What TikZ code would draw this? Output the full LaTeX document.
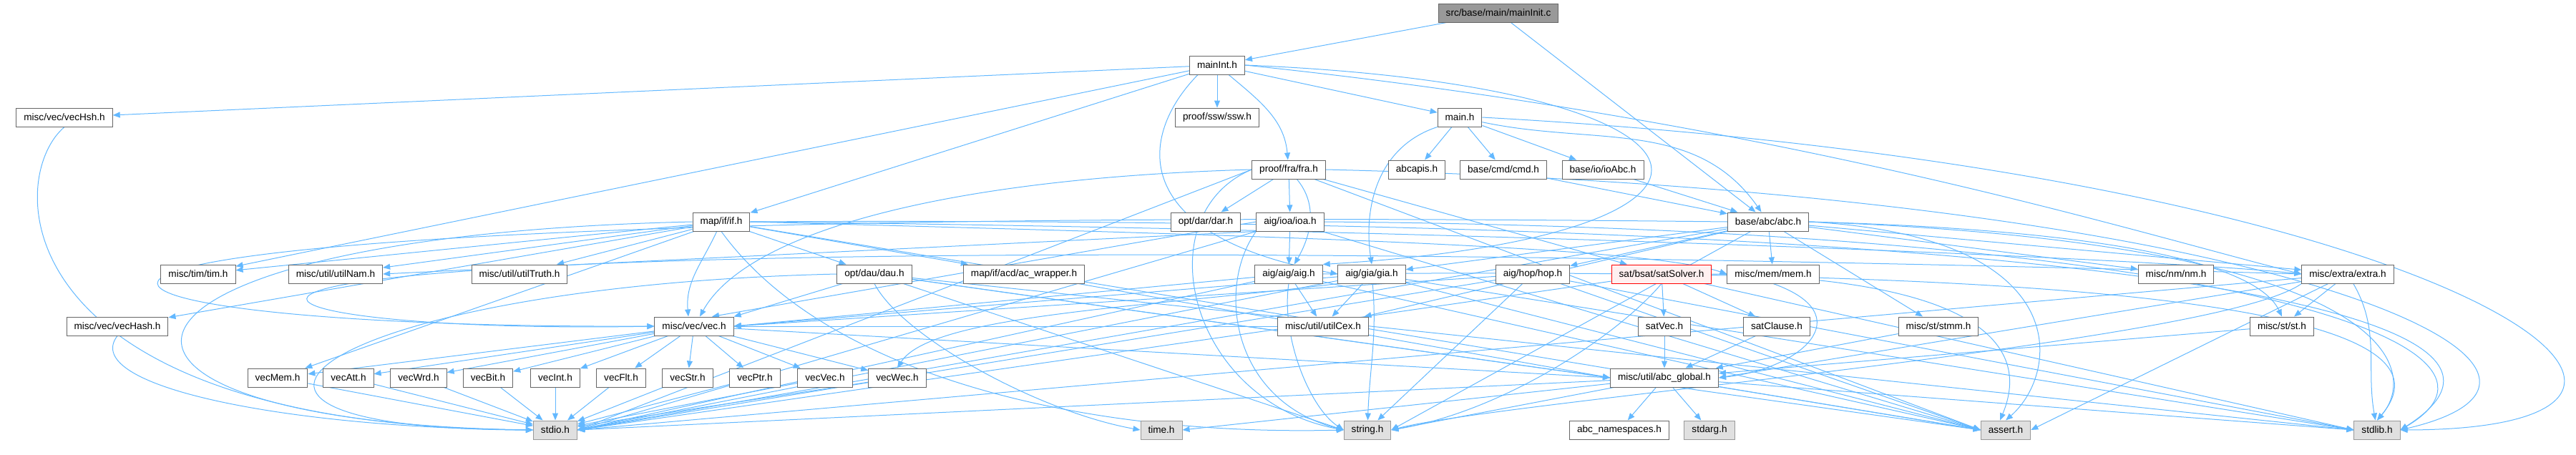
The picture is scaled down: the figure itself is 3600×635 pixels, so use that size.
\documentclass[tikz,border=0pt]{standalone}
\usepackage{fontspec}
\newfontfamily\nf{Liberation Sans}
\usetikzlibrary{arrows.meta,backgrounds}
\definecolor{eblue}{HTML}{63B8FF}
\definecolor{ndgray}{HTML}{666666}
\definecolor{sysgray}{HTML}{999999}
\definecolor{sysfill}{HTML}{E0E0E0}
\definecolor{rootfill}{HTML}{999999}
\definecolor{redfill}{HTML}{FFF0F0}
\tikzset{
  nd/.style={draw=ndgray, line width=1pt, fill=white, minimum height=26pt,
    inner xsep=10.5pt, inner ysep=0pt, font=\nf\fontsize{13.6}{16}\selectfont},
  sys/.style={nd, draw=sysgray, fill=sysfill},
  rootnd/.style={nd, fill=rootfill},
  rednd/.style={nd, draw=red, fill=redfill},
  e/.style={draw=eblue, line width=1pt, -{Triangle[length=10pt,width=8pt]}},
}
\begin{document}
\begin{tikzpicture}[x=1pt,y=-1pt]
\useasboundingbox (0,0) rectangle (3600,635);
% row 0-2
\node[rootnd] (root) at (2094,18) {src/base/main/mainInit.c};
\node[nd] (mainInt) at (1701,91) {mainInt.h};
\node[nd] (vecHsh) at (90,164) {misc/vec/vecHsh.h};
\node[nd] (ssw) at (1701,164) {proof/ssw/ssw.h};
\node[nd] (main) at (2040,164) {main.h};
% row 3
\node[nd] (fra) at (1801,237) {proof/fra/fra.h};
\node[nd] (abcapis) at (1980,237) {abcapis.h};
\node[nd] (cmd) at (2101,237) {base/cmd/cmd.h};
\node[nd] (ioAbc) at (2240,237) {base/io/ioAbc.h};
% row 4
\node[nd] (ifh) at (1008,310) {map/if/if.h};
\node[nd] (dar) at (1685,310) {opt/dar/dar.h};
\node[nd] (ioa) at (1803,310) {aig/ioa/ioa.h};
\node[nd] (abc) at (2471,310) {base/abc/abc.h};
% row 5
\node[nd] (tim) at (277,383) {misc/tim/tim.h};
\node[nd] (utilNam) at (469,383) {misc/util/utilNam.h};
\node[nd] (utilTruth) at (726,383) {misc/util/utilTruth.h};
\node[nd] (dau) at (1222,383) {opt/dau/dau.h};
\node[nd] (acw) at (1431,383) {map/if/acd/ac\_wrapper.h};
\node[nd] (aig) at (1801,383) {aig/aig/aig.h};
\node[nd] (gia) at (1917,383) {aig/gia/gia.h};
\node[nd] (hop) at (2142,383) {aig/hop/hop.h};
\node[rednd] (sat) at (2322,383) {sat/bsat/satSolver.h};
\node[nd] (mem) at (2478,383) {misc/mem/mem.h};
\node[nd] (nm) at (3041,383) {misc/nm/nm.h};
\node[nd] (extra) at (3281,383) {misc/extra/extra.h};
% row 6
\node[nd] (vecHash) at (164,456) {misc/vec/vecHash.h};
\node[nd] (vec) at (970,456) {misc/vec/vec.h};
\node[nd] (utilCex) at (1849,456) {misc/util/utilCex.h};
\node[nd] (satVec) at (2326,456) {satVec.h};
\node[nd] (satClause) at (2483,456) {satClause.h};
\node[nd] (stmm) at (2709,456) {misc/st/stmm.h};
\node[nd] (st) at (3189,456) {misc/st/st.h};
% row 7
\node[nd] (vecMem) at (388,528) {vecMem.h};
\node[nd] (vecAtt) at (487,528) {vecAtt.h};
\node[nd] (vecWrd) at (585,528) {vecWrd.h};
\node[nd] (vecBit) at (682,528) {vecBit.h};
\node[nd] (vecInt) at (776,528) {vecInt.h};
\node[nd] (vecFlt) at (868,528) {vecFlt.h};
\node[nd] (vecStr) at (961,528) {vecStr.h};
\node[nd] (vecPtr) at (1055,528) {vecPtr.h};
\node[nd] (vecVec) at (1153,528) {vecVec.h};
\node[nd] (vecWec) at (1254,528) {vecWec.h};
\node[nd] (abcglobal) at (2326,528) {misc/util/abc\_global.h};
% row 8
\node[sys] (stdio) at (776,601) {stdio.h};
\node[sys] (time) at (1623,601) {time.h};
\node[sys] (string) at (1911,601) {string.h};
\node[nd] (abcns) at (2263,601) {abc\_namespaces.h};
\node[sys] (stdarg) at (2389,601) {stdarg.h};
\node[sys] (assert) at (2803,601) {assert.h};
\node[sys] (stdlib) at (3322,601) {stdlib.h};

\begin{pgfonlayer}{background}
% root
\draw[e] (root) -- (mainInt);
\draw[e] (root) -- (abc);
% mainInt
\draw[e] (mainInt) -- (vecHsh);
\draw[e] (mainInt) -- (tim);
\draw[e] (mainInt) -- (ifh);
\draw[e] (mainInt) -- (ssw);
\draw[e] (mainInt) to[out=-40,in=95] (fra);
\draw[e] (mainInt) -- (main);
\draw[e] ([xshift=12pt]mainInt.south west) .. controls (1590,190) and (1575,330) .. (gia.west);
\draw[e] (mainInt.east) .. controls (2450,120) and (2500,330) .. (aig.north east);
\draw[e] (mainInt.east) .. controls (2500,170) and (3000,330) .. (extra.west);
% main
\draw[e] (main) -- (abcapis);
\draw[e] (main) -- (cmd);
\draw[e] (main) -- (ioAbc);
\draw[e] (main.south west) .. controls (1925,205) and (1905,290) .. (gia.north);
\draw[e] (main) to[out=-12,in=125] (abc);
\draw[e] (main.east) .. controls (3450,240) and (3900,600) .. (stdlib.east);
\draw[e] (cmd) -- (abc);
\draw[e] (ioAbc) -- (abc);
% fra
\draw[e] (fra) -- (dar);
\draw[e] (fra) -- (ioa);
\draw[e] (fra) to[out=-50,in=60] (aig);
\draw[e] (fra) -- (sat);
\draw[e] (fra.west) .. controls (1300,250) and (1040,330) .. ([xshift=8pt]vec.north);
\draw[e] (fra.west) .. controls (1600,300) and (1660,560) .. (string.west);
\draw[e] (fra) -- (assert.west);
\draw[e] (fra.east) .. controls (3200,270) and (3700,520) .. (stdlib.east);
\draw[e] (fra.west) -- (stdio.east);
% ioa
\draw[e] (ioa) -- (aig);
\draw[e] (ioa.west) -- ([xshift=25pt]vec.north);
\draw[e] (ioa.south west) -- (utilNam.east);
\draw[e] (ioa.south west) .. controls (1700,400) and (1720,560) .. (string.west);
\draw[e] (ioa) -- (assert.west);
\draw[e] (ioa.east) .. controls (3100,320) and (3560,480) .. (stdlib.east);
\draw[e] (ioa.south west) -- (stdio.east);
% aig
\draw[e] (aig) -- (vec.east);
\draw[e] (aig) -- (utilCex);
\draw[e] (aig.south) .. controls (1790,470) and (1830,570) .. (string.west);
\draw[e] (aig) -- (assert.west);
\draw[e] (aig.east) .. controls (3200,370) and (3420,470) .. (stdlib.north);
\draw[e] (aig) -- (stdio.east);
% gia
\draw[e] (gia) -- (vec.east);
\draw[e] (gia.south west) .. controls (1600,430) and (1300,440) .. (vecWec.north);
\draw[e] (gia) -- (utilCex);
\draw[e] (gia) to[out=-85,in=88] (string);
\draw[e] (gia) -- (assert.west);
\draw[e] (gia) -- (stdlib.west);
\draw[e] (gia) -- (stdio.east);
% hop
\draw[e] (hop) -- (vec.east);
\draw[e] (hop) -- (string);
\draw[e] (hop) -- (assert.west);
\draw[e] (hop) -- (stdlib.west);
\draw[e] (hop) -- (stdio.east);
% sat
\draw[e] (sat) -- (satVec);
\draw[e] (sat) -- (satClause);
\draw[e] (sat.south) .. controls (2260,470) and (2100,575) .. (string.east);
\draw[e] (sat.east) .. controls (2760,390) and (2840,480) .. ([xshift=-8pt]assert.north);
\draw[e] (sat) -- (stdlib.west);
\draw[e] (sat) -- (stdio.east);
% dau
\draw[e] (dau) -- (vec.north east);
\draw[e] (dau.south) .. controls (1260,470) and (1450,575) .. (time.west);
\draw[e] (dau) -- (string.west);
\draw[e] (dau) -- (assert.west);
\draw[e] (dau) -- (stdlib.west);
\draw[e] (dau.west) .. controls (450,400) and (180,600) .. (stdio.west);
\draw[e] (dau) -- (abcglobal.west);
\draw[e] (acw) -- (abcglobal.west);
% if
\draw[e] (ifh) -- (tim);
\draw[e] (ifh) -- (utilNam);
\draw[e] (ifh) -- (utilTruth);
\draw[e] (ifh) to[out=-115,in=95] ([xshift=-8pt]vec.north);
\draw[e] (ifh) -- (dau);
\draw[e] (ifh) -- (acw);
\draw[e] (ifh) -- (vecHash);
\draw[e] (ifh) -- (vecMem);
\draw[e] (ifh.east) .. controls (1800,330) and (2300,345) .. (mem.west);
\draw[e] (ifh.east) .. controls (2000,320) and (3000,360) .. (extra.west);
\draw[e] (ifh.west) .. controls (80,330) and (40,590) .. (stdio.west);
\draw[e] (ifh.south) .. controls (1150,520) and (1500,610) .. (string.west);
\draw[e] (ifh) -- (assert.west);
\draw[e] (ifh.east) .. controls (2800,300) and (3640,420) .. (stdlib.east);
% abc
\draw[e] (abc) -- (hop);
\draw[e] (abc) -- (gia);
\draw[e] (abc) -- (mem);
\draw[e] (abc) -- (nm);
\draw[e] (abc) -- (extra);
\draw[e] (abc.east) .. controls (2900,320) and (3150,360) .. (st.north);
\draw[e] (abc) -- (stmm);
\draw[e] (abc.west) .. controls (-300,280) and (-100,460) .. (vec.west);
\draw[e] (abc) -- (utilCex);
\draw[e] (abc) -- (stdio.east);
\draw[e] (abc) -- (string.east);
\draw[e] (abc.east) .. controls (2900,330) and (2880,520) .. (assert.north);
\draw[e] (abc.east) .. controls (3360,340) and (3380,520) .. (stdlib.north);
% mem
\draw[e] (mem.south) .. controls (2600,440) and (2520,515) .. (abcglobal.east);
% extra
\draw[e] (extra) -- (st);
\draw[e] (extra.west) .. controls (-100,290) and (150,470) .. (vec.west);
\draw[e] (extra) -- (stdio.east);
\draw[e] (extra.south west) .. controls (3100,480) and (2100,560) .. (string.east);
\draw[e] (extra) -- (assert.east);
\draw[e] (extra) to[out=-60,in=100] (stdlib);
\draw[e] (extra) -- (abcglobal.east);
% utilCex
\draw[e] (utilCex) -- (vec);
% vec
\foreach \t in {vecMem,vecAtt,vecWrd,vecBit,vecInt,vecFlt,vecStr,vecPtr,vecVec,vecWec}
  {\draw[e] (vec) -- (\t);}
\draw[e] (vec) -- (abcglobal.west);
\foreach \t in {vecMem,vecAtt,vecWrd,vecBit,vecInt,vecFlt,vecStr,vecPtr,vecVec,vecWec}
  {\draw[e] (\t) -- (stdio);}
% vecHsh, vecHash
\draw[e] (vecHsh.south) .. controls (5,250) and (5,595) .. (stdio.west);
\draw[e] (vecHash.south) .. controls (110,540) and (400,598) .. (stdio.west);
% sat parts and st
\draw[e] (satVec) -- (abcglobal);
\draw[e] (satClause) -- (abcglobal);
\draw[e] (stmm) -- (abcglobal);
\draw[e] (st) -- (abcglobal);
% abc_global
\draw[e] (abcglobal) -- (abcns);
\draw[e] (abcglobal) -- (stdarg);
\draw[e] (abcglobal) -- (stdio.east);
\draw[e] (abcglobal) -- (time.east);
\draw[e] (abcglobal) -- (string.east);
\draw[e] (abcglobal) -- (assert.west);
\draw[e] (abcglobal) -- (stdlib.west);
\end{pgfonlayer}
\end{tikzpicture}
\end{document}
